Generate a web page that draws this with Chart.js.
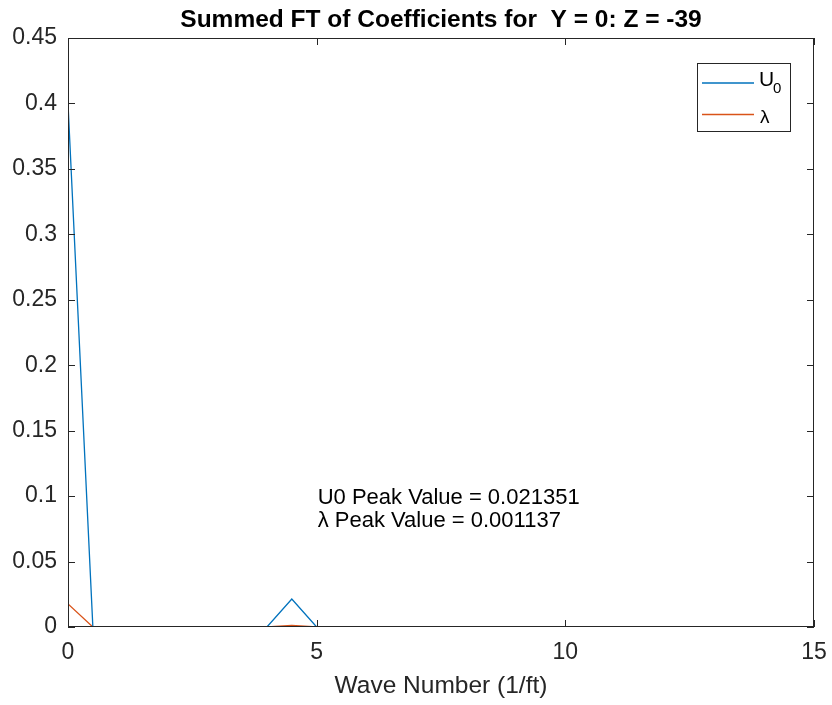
<!DOCTYPE html>
<html>
<head>
<meta charset="utf-8">
<script src="https://cdn.jsdelivr.net/npm/chart.js@4/dist/chart.umd.min.js"></script>
<style>
html,body{margin:0;padding:0;background:#fff;}
#wrap{width:832px;height:705px;position:relative;}
</style>
</head>
<body>
<div id="wrap"><canvas id="c" width="832" height="705"></canvas></div>
<script>
// ---- data ----
const waveNumbers = [0,0.5,1,1.5,2,2.5,3,3.5,4,4.5,5,5.5,6,6.5,7,7.5,8,8.5,9,9.5,10,10.5,11,11.5,12,12.5,13,13.5,14,14.5,15];
const u0Values     = [0.40,0,0,0,0,0,0,0,0,0.021351,0,0,0,0,0,0,0,0,0,0,0,0,0,0,0,0,0,0,0,0,0];
const lambdaValues = [0.0176,0,0,0,0,0,0,0,0,0.001137,0,0,0,0,0,0,0,0,0,0,0,0,0,0,0,0,0,0,0,0,0];
const xTicks = [0,5,10,15];
const yTicks = [0,0.05,0.1,0.15,0.2,0.25,0.3,0.35,0.4,0.45];
const yTickLabels = ['0','0.05','0.1','0.15','0.2','0.25','0.3','0.35','0.4','0.45'];
const titleText = 'Summed FT of Coefficients for  Y = 0: Z = -39';
const xLabel = 'Wave Number (1/ft)';
const annotationLines = ['U0 Peak Value = 0.021351', '\u03BB Peak Value = 0.001137'];
const annotationAt = {x: 5, y: 0.1};

const BLUE = '#0072BD', ORANGE = '#D95319', AX = '#262626';
const FONT = 'Arial, "Liberation Sans", Helvetica, sans-serif';

const framePlugin = {
  id: 'frame',
  afterDraw(chart) {
    const {ctx, chartArea: a, scales: {x, y}} = chart;
    ctx.save();
    // box
    ctx.strokeStyle = AX;
    ctx.lineWidth = 1;
    ctx.strokeRect(a.left + 0.5, a.top + 0.5, a.right - a.left - 1, a.bottom - a.top - 1);
    // inner ticks
    const tl = 7;
    ctx.beginPath();
    xTicks.forEach(v => {
      const px = Math.round(x.getPixelForValue(v)) + 0.5;
      ctx.moveTo(px, a.bottom); ctx.lineTo(px, a.bottom - tl);
      ctx.moveTo(px, a.top); ctx.lineTo(px, a.top + tl);
    });
    yTicks.forEach(v => {
      const py = Math.round(y.getPixelForValue(v)) + 0.5;
      ctx.moveTo(a.left, py); ctx.lineTo(a.left + tl, py);
      ctx.moveTo(a.right, py); ctx.lineTo(a.right - tl, py);
    });
    ctx.stroke();
    // title
    ctx.fillStyle = '#000';
    ctx.font = 'bold 24.5px ' + FONT;
    ctx.textAlign = 'center';
    ctx.textBaseline = 'middle';
    ctx.fillText(titleText, (a.left + a.right) / 2, 20);
    // annotation
    ctx.fillStyle = '#000';
    ctx.font = '22px ' + FONT;
    ctx.textAlign = 'left';
    const ax = x.getPixelForValue(annotationAt.x);
    const ay = y.getPixelForValue(annotationAt.y);
    annotationLines.forEach((t, i) => ctx.fillText(t, ax + 1, ay + 2 + i * 23));
    // legend
    const lx = 697, ly = 63, lw = 93, lh = 68;
    ctx.fillStyle = '#fff';
    ctx.fillRect(lx, ly, lw, lh);
    ctx.lineWidth = 1;
    ctx.strokeStyle = AX;
    ctx.strokeRect(lx + 0.5, ly + 0.5, lw, lh);
    ctx.lineWidth = 1.3;
    ctx.strokeStyle = BLUE;
    ctx.beginPath(); ctx.moveTo(702, 83); ctx.lineTo(754, 83); ctx.stroke();
    ctx.strokeStyle = ORANGE;
    ctx.beginPath(); ctx.moveTo(702, 114.5); ctx.lineTo(754, 114.5); ctx.stroke();
    ctx.fillStyle = '#000';
    ctx.font = '21px ' + FONT;
    ctx.fillText('U', 759, 80);
    ctx.font = '15px ' + FONT;
    ctx.fillText('0', 773, 89);
    ctx.font = '19px ' + FONT;
    ctx.fillText('\u03BB', 760, 118);
    ctx.restore();
  }
};

new Chart(document.getElementById('c'), {
  type: 'line',
  data: {
    datasets: [
      {label: 'U0', data: waveNumbers.map((w, i) => ({x: w, y: u0Values[i]})), borderColor: BLUE, borderWidth: 1.3, pointRadius: 0, tension: 0, fill: false},
      {label: '\u03BB', data: waveNumbers.map((w, i) => ({x: w, y: lambdaValues[i]})), borderColor: ORANGE, borderWidth: 1.3, pointRadius: 0, tension: 0, fill: false}
    ]
  },
  options: {
    responsive: false,
    animation: false,
    layout: {padding: {top: 38, right: 18, left: 0, bottom: 0}},
    plugins: {legend: {display: false}, tooltip: {enabled: false}, title: {display: false}},
    scales: {
      x: {
        type: 'linear', min: 0, max: 15,
        afterBuildTicks: s => { s.ticks = xTicks.map(v => ({value: v})); },
        afterFit: s => { s.height = 78; s.paddingLeft = 0; s.paddingRight = 0; },
        grid: {display: false, drawTicks: false},
        border: {display: false},
        ticks: {color: AX, font: {size: 23, family: FONT}, padding: 12, maxRotation: 0},
        title: {display: true, text: xLabel, color: AX, font: {size: 24.5, family: FONT}, padding: {top: 4, bottom: 4}}
      },
      y: {
        type: 'linear', min: 0, max: 0.45,
        afterBuildTicks: s => { s.ticks = yTicks.map(v => ({value: v})); },
        afterFit: s => { s.width = 68; s.paddingTop = 0; s.paddingBottom = 0; },
        grid: {display: false, drawTicks: false},
        border: {display: false},
        ticks: {color: AX, font: {size: 23, family: FONT}, padding: 11,
          callback: (v) => { const i = yTicks.findIndex(t => Math.abs(t - v) < 1e-9); return i >= 0 ? yTickLabels[i] : ''; }}
      }
    }
  },
  plugins: [framePlugin]
});
</script>
</body>
</html>
